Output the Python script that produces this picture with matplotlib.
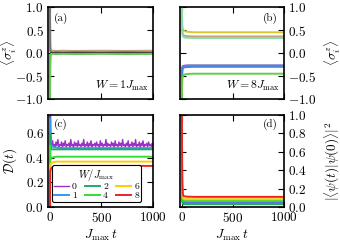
import matplotlib
matplotlib.use("Agg")
import matplotlib.pyplot as plt

plt.rcParams['font.family'] = 'serif'
plt.rcParams['font.serif'] = ['cmr10']
plt.rcParams['mathtext.fontset'] = 'cm'
plt.rcParams['axes.formatter.use_mathtext'] = True
plt.rcParams['font.size'] = 9.5

# time grid (J_max t)
t_s = [0, 1, 2, 4, 8, 15, 30, 60, 120, 250, 500, 750, 1000]

# (a) site magnetisations, W = 1 J_max
a_sites = [
    [1.0, 0.6, 0.25, 0.1, 0.06, 0.05, 0.05, 0.045, 0.05, 0.045, 0.05, 0.045, 0.05],
    [1.0, 0.5, 0.15, 0.05, 0.03, 0.03, 0.025, 0.03, 0.025, 0.03, 0.025, 0.03, 0.025],
    [1.0, 0.4, 0.1, 0.03, 0.01, 0.01, 0.005, 0.01, 0.005, 0.01, 0.005, 0.01, 0.005],
    [-1.0, -0.5, -0.15, -0.03, 0.0, 0.005, 0.0, 0.005, 0.0, 0.005, 0.0, 0.005, 0.0],
    [-1.0, -0.6, -0.25, -0.08, -0.03, -0.02, -0.02, -0.025, -0.02, -0.025, -0.02, -0.025, -0.02],
]
a_colors = ['#c8a080', '#a0a070', '#777777', '#444444', '#66cc55']

# (b) site magnetisations, W = 8 J_max
b_sites = [
    [1.0, 0.85, 0.7, 0.58, 0.52, 0.49, 0.47, 0.46, 0.45, 0.45, 0.45, 0.45, 0.45],
    [1.0, 0.8, 0.6, 0.47, 0.41, 0.39, 0.37, 0.365, 0.36, 0.36, 0.36, 0.36, 0.36],
    [1.0, 0.75, 0.55, 0.42, 0.37, 0.35, 0.335, 0.33, 0.325, 0.325, 0.325, 0.325, 0.325],
    [-1.0, -0.6, -0.4, -0.31, -0.29, -0.28, -0.275, -0.27, -0.27, -0.27, -0.27, -0.27, -0.27],
    [-1.0, -0.65, -0.45, -0.35, -0.31, -0.29, -0.285, -0.28, -0.28, -0.28, -0.28, -0.28, -0.28],
    [-1.0, -0.7, -0.48, -0.38, -0.34, -0.32, -0.31, -0.305, -0.3, -0.3, -0.3, -0.3, -0.3],
    [-1.0, -0.85, -0.7, -0.58, -0.51, -0.48, -0.465, -0.455, -0.45, -0.45, -0.45, -0.45, -0.45],
]
b_colors = ['#d8c830', '#c8a080', '#88dda8', '#5555aa', '#9966dd', '#4488dd', '#66cc44']

# (c) D(t) and (d) return probability for each disorder W/J_max
W_vals = [0, 1, 2, 4, 6, 8]
W_colors = ['#9b30c8', '#3399ee', '#22aa66', '#33dd33', '#ffcc00', '#ee2222']

D_curves = [
    [0.0, 0.75, 0.72, 0.62, 0.55, 0.52, 0.51, 0.50, 0.50, 0.50, 0.50, 0.50, 0.50],
    [0.0, 0.72, 0.68, 0.58, 0.52, 0.50, 0.49, 0.485, 0.48, 0.48, 0.48, 0.48, 0.48],
    [0.0, 0.6, 0.55, 0.5, 0.48, 0.47, 0.47, 0.47, 0.47, 0.47, 0.47, 0.47, 0.47],
    [0.0, 0.5, 0.42, 0.39, 0.39, 0.4, 0.405, 0.41, 0.41, 0.41, 0.41, 0.41, 0.41],
    [0.0, 0.3, 0.34, 0.35, 0.355, 0.36, 0.365, 0.37, 0.37, 0.37, 0.37, 0.37, 0.37],
    [0.0, 0.25, 0.29, 0.3, 0.31, 0.32, 0.325, 0.33, 0.335, 0.335, 0.335, 0.335, 0.335],
]

# noisy W=0 curve for D(t)
t_noise = [8, 15, 25, 32, 41, 50, 58, 66, 77, 85, 93, 104, 112, 121, 130, 138, 147, 158, 166, 175,
           184, 193, 201, 212, 220, 229, 238, 247, 255, 266, 274, 283, 292, 300, 310, 318, 327, 336,
           345, 354, 362, 372, 381, 390, 398, 408, 417, 425, 435, 444, 452, 462, 471, 480, 488, 498,
           507, 516, 525, 534, 543, 552, 561, 570, 579, 588, 597, 606, 615, 624, 633, 642, 651, 660,
           669, 678, 687, 696, 705, 714, 723, 732, 741, 750, 759, 768, 777, 786, 795, 804, 813, 822,
           831, 840, 849, 858, 867, 876, 885, 894, 903, 912, 921, 930, 939, 948, 957, 966, 975, 984,
           993, 1000]
D0_noise = [0.52, 0.49, 0.54, 0.50, 0.51, 0.49, 0.53, 0.50, 0.55, 0.49, 0.51, 0.50, 0.53, 0.48, 0.52,
            0.50, 0.54, 0.49, 0.51, 0.50, 0.52, 0.49, 0.55, 0.50, 0.51, 0.48, 0.53, 0.50, 0.52, 0.49,
            0.54, 0.50, 0.51, 0.49, 0.52, 0.50, 0.55, 0.49, 0.51, 0.50, 0.53, 0.48, 0.52, 0.50, 0.54,
            0.49, 0.51, 0.50, 0.52, 0.49, 0.53, 0.50, 0.51, 0.48, 0.54, 0.50, 0.52, 0.49, 0.51, 0.50,
            0.55, 0.49, 0.52, 0.50, 0.51, 0.49, 0.53, 0.50, 0.52, 0.48, 0.54, 0.50, 0.51, 0.49, 0.53,
            0.50, 0.52, 0.49, 0.55, 0.50, 0.51, 0.49, 0.52, 0.50, 0.54, 0.48, 0.51, 0.50, 0.53, 0.49,
            0.52, 0.50, 0.55, 0.49, 0.51, 0.50, 0.53, 0.48, 0.52, 0.50, 0.54, 0.49, 0.51, 0.50, 0.52,
            0.49, 0.53, 0.50, 0.51, 0.49, 0.52, 0.50]

P_curves = [
    [1.0, 0.5, 0.2, 0.1, 0.06, 0.05, 0.055, 0.05, 0.055, 0.05, 0.055, 0.05, 0.055],
    [1.0, 0.5, 0.2, 0.08, 0.05, 0.04, 0.04, 0.04, 0.04, 0.04, 0.04, 0.04, 0.04],
    [1.0, 0.5, 0.2, 0.07, 0.04, 0.03, 0.03, 0.03, 0.03, 0.03, 0.03, 0.03, 0.03],
    [1.0, 0.6, 0.3, 0.12, 0.08, 0.07, 0.065, 0.065, 0.065, 0.065, 0.065, 0.065, 0.065],
    [1.0, 0.7, 0.4, 0.18, 0.11, 0.09, 0.085, 0.085, 0.085, 0.085, 0.085, 0.085, 0.085],
    [1.0, 0.8, 0.5, 0.25, 0.15, 0.12, 0.115, 0.112, 0.11, 0.11, 0.11, 0.11, 0.11],
]

fig = plt.figure(figsize=(3.4, 2.5), dpi=100)
ax_a = fig.add_axes([0.141, 0.604, 0.309, 0.368])
ax_b = fig.add_axes([0.529, 0.604, 0.306, 0.368])
ax_c = fig.add_axes([0.141, 0.172, 0.309, 0.368])
ax_d = fig.add_axes([0.529, 0.172, 0.306, 0.368])

for ax in [ax_a, ax_b, ax_c, ax_d]:
    ax.set_xlim(-20, 1000)
    ax.set_xticks([0, 500, 1000])
    ax.tick_params(direction='in', top=True, right=True, length=4, width=0.8, pad=3)
    for s in ax.spines.values():
        s.set_linewidth(1.2)

lw = 1.4
for y, c in zip(a_sites, a_colors):
    ax_a.plot(t_s, y, color=c, lw=lw)
for y, c in zip(b_sites, b_colors):
    ax_b.plot(t_s, y, color=c, lw=lw)

for ax in [ax_a, ax_b]:
    ax.set_ylim(-1, 1)
    ax.set_yticks([-1, -0.5, 0, 0.5, 1])
    ax.set_xticklabels([])
ax_a.set_ylabel(r'$\langle\sigma_i^z\rangle$')
ax_a.yaxis.set_label_coords(-0.28, 0.5)
ax_b.yaxis.tick_right()
ax_b.tick_params(left=True)
ax_b.yaxis.set_label_position('right')
ax_b.set_ylabel(r'$\langle\sigma_i^z\rangle$')
ax_b.yaxis.set_label_coords(1.37, 0.5)
ax_a.text(0.06, 0.94, '(a)', transform=ax_a.transAxes, fontsize=8, va='top')
ax_b.text(0.94, 0.94, '(b)', transform=ax_b.transAxes, fontsize=8, va='top', ha='right')
ax_a.text(0.96, 0.06, r'$W = 1J_{\max}$', transform=ax_a.transAxes, fontsize=8.5, ha='right', va='bottom')
ax_b.text(0.96, 0.06, r'$W = 8J_{\max}$', transform=ax_b.transAxes, fontsize=8.5, ha='right', va='bottom')

handles = []
for i, (w, c) in enumerate(zip(W_vals, W_colors)):
    if i == 0:
        h, = ax_c.plot(t_noise, D0_noise, color=c, lw=1.0, label=str(w))
        ax_c.plot(t_s[:5], D_curves[i][:5], color=c, lw=lw)
    else:
        h, = ax_c.plot(t_s, D_curves[i], color=c, lw=lw, label=str(w))
    handles.append(h)
    ax_d.plot(t_s, P_curves[i], color=c, lw=lw)

ax_c.set_ylim(0, 0.75)
ax_c.set_yticks([0, 0.2, 0.4, 0.6])
ax_c.set_ylabel(r'$\mathcal{D}(t)$')
ax_c.yaxis.set_label_coords(-0.28, 0.5)
ax_c.set_xlabel(r'$J_{\max}\,t$', labelpad=2)
ax_c.text(0.06, 0.96, '(c)', transform=ax_c.transAxes, fontsize=8, va='top')
leg = ax_c.legend(handles=handles, ncol=3, loc='lower center', bbox_to_anchor=(0.46, 0.0),
                  title=r'$W/J_{\max}$', fontsize=7, title_fontsize=7.5,
                  handlelength=1.6, columnspacing=0.8, labelspacing=0.0,
                  borderpad=0.2, handletextpad=0.3, fancybox=True, framealpha=1)
leg.get_frame().set_edgecolor('black')
leg.get_frame().set_linewidth(0.8)

ax_d.set_ylim(0, 1)
ax_d.set_yticks([0, 0.2, 0.4, 0.6, 0.8, 1.0])
ax_d.yaxis.tick_right()
ax_d.tick_params(left=True)
ax_d.yaxis.set_label_position('right')
ax_d.set_ylabel(r'$|\langle\psi(t)|\psi(0)\rangle|^2$')
ax_d.yaxis.set_label_coords(1.37, 0.5)
ax_d.set_xlabel(r'$J_{\max}\,t$', labelpad=2)
ax_d.text(0.94, 0.96, '(d)', transform=ax_d.transAxes, fontsize=8, va='top', ha='right')

fig.savefig('out.png', dpi=100)
